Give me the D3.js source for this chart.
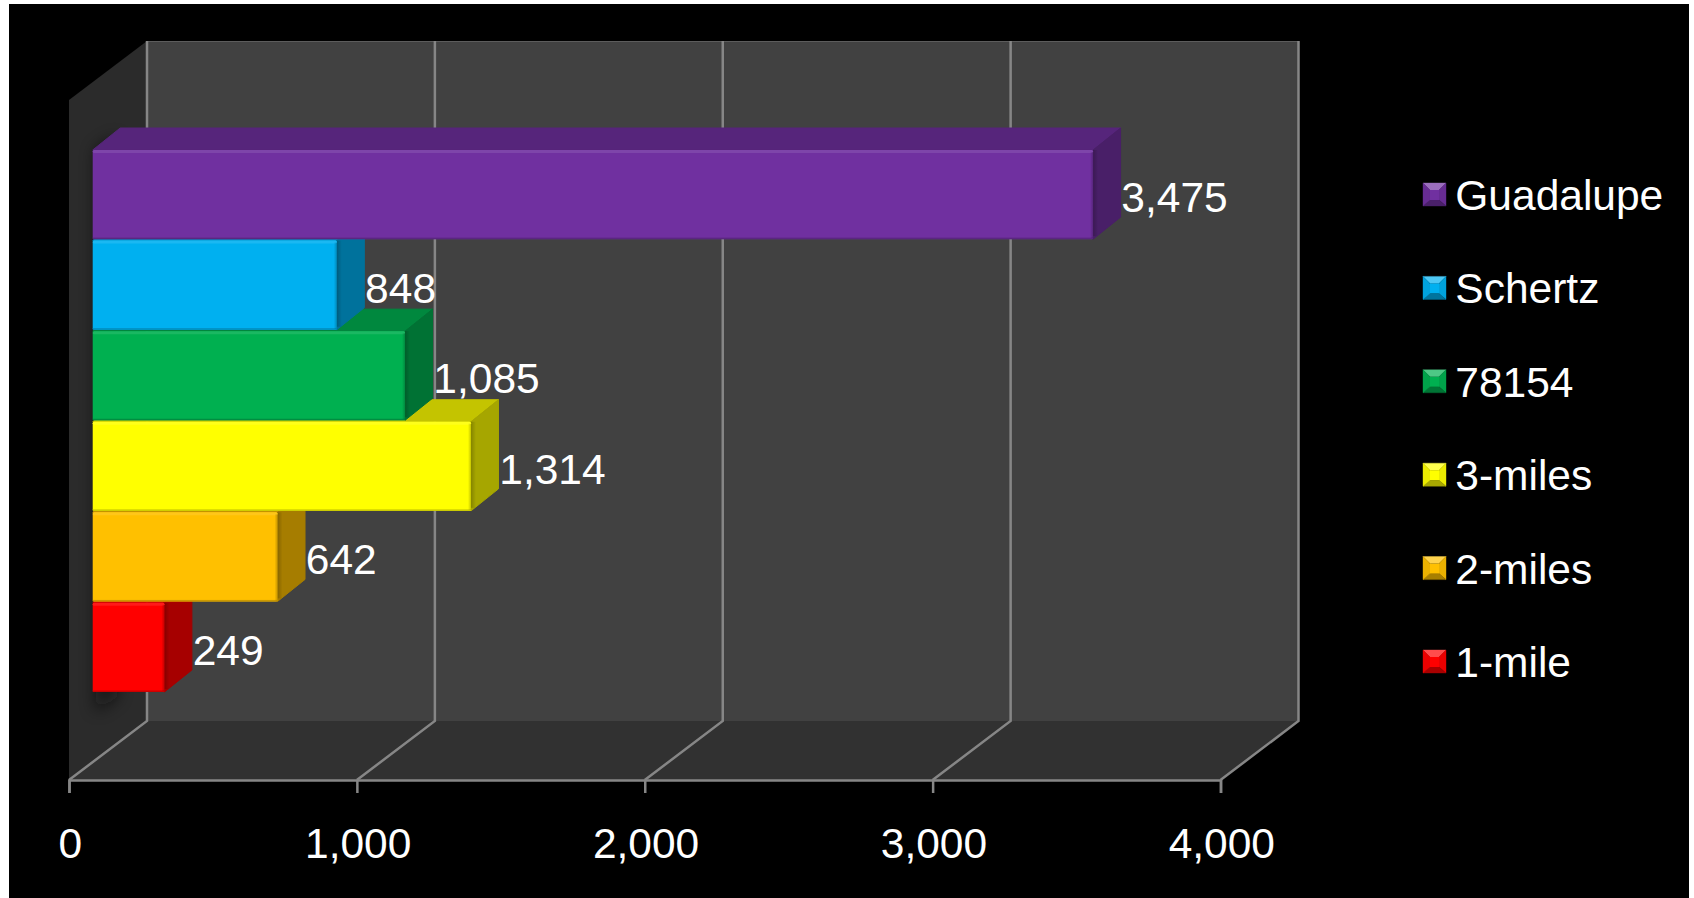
<!DOCTYPE html>
<html>
<head>
<meta charset="utf-8">
<style>
html,body{margin:0;padding:0;background:#fff;overflow:hidden}
svg{display:block}
text{font-family:"Liberation Sans",Arial,sans-serif;fill:#fff}
</style>
<script src="https://cdn.jsdelivr.net/npm/d3@7/dist/d3.min.js"></script>
</head>
<body>
<svg id="c" width="1694" height="898"></svg>
<script>
const categories = ["Guadalupe","Schertz","78154","3-miles","2-miles","1-mile"];
const values = [3475,848,1085,1314,642,249];
const barColors = ["#7030A0","#00B0F0","#00B050","#FFFF00","#FFC000","#FF0000"];
const ticks = [0,1000,2000,3000,4000];

const svg = d3.select("#c");
const defs = svg.append("defs");

// frame
svg.append("rect").attr("x",9).attr("y",4).attr("width",1680).attr("height",894).attr("fill","#000");

const x = d3.scaleLinear().domain([0,4000]).range([69,1220.5]);
const yFloor = 780, wallDx = 78, wallDy = 59, wallTop = 100;
const barInset = 23.7, barDx = 27.5, barDy = 22;
const y = d3.scaleBand().domain(categories).range([150,692]).paddingInner(0.016).paddingOuter(0);
const shade = (c,k)=>{const r=d3.rgb(c);return d3.rgb(r.r*k,r.g*k,r.b*k).formatHex();};
const lift = (c,k)=>{const r=d3.rgb(c);return d3.rgb(r.r+(255-r.r)*k,r.g+(255-r.g)*k,r.b+(255-r.b)*k).formatHex();};
const poly = pts=>pts.map(p=>p.join(",")).join(" ");

// walls
const x0=x(0), x4=x(4000);
const leftWall=[[x0,wallTop],[x0+wallDx,wallTop-wallDy],[x0+wallDx,yFloor-wallDy],[x0,yFloor]];
svg.append("polygon").attr("points",poly(leftWall)).attr("fill","#2b2b2b");
svg.append("rect").attr("x",x0+wallDx).attr("y",wallTop-wallDy).attr("width",x4-x0)
   .attr("height",yFloor-wallTop).attr("fill","#414141");
svg.append("polygon").attr("points",poly([[x0,yFloor],[x0+wallDx,yFloor-wallDy],[x4+wallDx,yFloor-wallDy],[x4,yFloor]])).attr("fill","#313131");
svg.append("line").attr("x1",x0+wallDx).attr("x2",x4+wallDx).attr("y1",wallTop-wallDy+.5).attr("y2",wallTop-wallDy+.5).attr("stroke","#5c5c5c");

// soft shadow on the side wall
const blur=defs.append("filter").attr("id","soft").attr("x","-80%").attr("y","-10%").attr("width","260%").attr("height","120%");
blur.append("feGaussianBlur").attr("stdDeviation",8);
defs.append("clipPath").attr("id","wallClip").append("polygon").attr("points",poly(leftWall));
svg.append("g").attr("clip-path","url(#wallClip)")
   .append("polygon").attr("filter","url(#soft)").attr("fill","#0c0c0c").attr("opacity",.65)
   .attr("points",poly([[x0+barInset+3,y.range()[0]],[x0+barInset+barDx-3,y.range()[0]-barDy+8],[x0+barInset+barDx-3,y.range()[1]+5],[x0+barInset+3,y.range()[1]+20]]));

// grid lines
const grid=svg.append("g").attr("stroke","#868686").attr("stroke-width",2.5).attr("fill","none");
grid.selectAll("polyline").data(ticks).join("polyline")
    .attr("points",d=>poly([[x(d),yFloor],[x(d)+wallDx,yFloor-wallDy],[x(d)+wallDx,wallTop-wallDy]]));

// axis
const axis=d3.axisBottom(x).tickValues(ticks).tickFormat(d3.format(",")).tickSize(13).tickSizeOuter(13);
const ax=svg.append("g").attr("transform",`translate(0,${yFloor})`).call(axis);
ax.selectAll("path,line").attr("stroke","#868686").attr("stroke-width",2.5);
ax.selectAll("text").attr("x",.8).attr("y",78).attr("dy",0).attr("font-size",42.5).attr("font-family",null).style("fill","#fff");
ax.attr("font-family",null).attr("font-size",null);

// bars, drawn bottom up so that upper bars sit over the caps below them
const gr=defs.append("linearGradient").attr("id","edge").attr("x1",0).attr("x2",1).attr("y1",0).attr("y2",0);
gr.append("stop").attr("offset",0).attr("stop-color","#000").attr("stop-opacity",0);
gr.append("stop").attr("offset",1).attr("stop-color","#000").attr("stop-opacity",.22);
const sideGr=defs.append("linearGradient").attr("id","sideEdge").attr("x1",0).attr("x2",1).attr("y1",0).attr("y2",0);
sideGr.append("stop").attr("offset",0).attr("stop-color","#000").attr("stop-opacity",.2);
sideGr.append("stop").attr("offset",1).attr("stop-color","#000").attr("stop-opacity",0);

const rows=categories.map((c,i)=>({c,v:values[i],col:barColors[i]})).reverse();
const bars=svg.append("g").selectAll("g").data(rows).join("g");
const left=x0+barInset;
const right=d=>x(d.v)+barInset;
bars.append("polygon").attr("fill",d=>shade(d.col,.77)).attr("stroke",d=>shade(d.col,.77)).attr("stroke-linejoin","round")
    .attr("points",d=>{const t=y(d.c);return poly([[left,t],[left+barDx,t-barDy],[right(d)+barDx,t-barDy],[right(d),t]]);});
bars.append("polygon").attr("fill",d=>shade(d.col,.65)).attr("stroke",d=>shade(d.col,.65)).attr("stroke-linejoin","round")
    .attr("points",d=>{const t=y(d.c),b=t+y.bandwidth();return poly([[right(d),t],[right(d)+barDx,t-barDy],[right(d)+barDx,b-barDy],[right(d),b]]);});
bars.append("rect").attr("x",d=>right(d)).attr("y",d=>y(d.c)).attr("width",5).attr("height",y.bandwidth()-3).attr("fill","url(#sideEdge)");
bars.append("rect").attr("x",left).attr("y",d=>y(d.c)).attr("width",d=>right(d)-left).attr("height",y.bandwidth()).attr("rx",1.5).attr("fill",d=>d.col);
bars.append("rect").attr("x",left).attr("y",d=>y(d.c)).attr("width",d=>right(d)-left).attr("height",3).attr("rx",1.5).attr("fill",d=>lift(d.col,.1));
bars.append("rect").attr("x",left).attr("y",d=>y(d.c)+y.bandwidth()-1.5).attr("width",d=>right(d)-left).attr("height",1.5).attr("fill",d=>shade(d.col,.8));
bars.append("rect").attr("x",d=>right(d)-3).attr("y",d=>y(d.c)+2).attr("width",3).attr("height",y.bandwidth()-3).attr("fill","url(#edge)");

// value labels
svg.append("g").selectAll("text").data(rows).join("text")
   .attr("x",d=>right(d)+barDx+.8).attr("y",d=>y(d.c)+y.bandwidth()/2+17.5)
   .attr("font-size",42.5).text(d=>d3.format(",")(d.v));

// legend
const legendY=d3.scalePoint().domain(categories).range([210,210+93.4*5]);
const leg=svg.append("g").selectAll("g").data(categories.map((c,i)=>({c,col:barColors[i]}))).join("g")
   .attr("transform",d=>`translate(0,${legendY(d.c)})`);
leg.append("text").attr("x",1455.3).attr("font-size",42.5).text(d=>d.c);
const ml=1423,ms=23,mt=-27,inset=6;
const corners=[[ml,mt],[ml+ms,mt],[ml+ms,mt+ms],[ml,mt+ms]];
const inner=[[ml+inset+1,mt+inset+1],[ml+ms-inset-1,mt+inset+1],[ml+ms-inset-1,mt+ms-inset],[ml+inset+1,mt+ms-inset]];
const faces=[[0,1,1.0,.3],[1,2,.92,0],[2,3,.66,0],[3,0,.92,0]];
faces.forEach(([a,b,k,l])=>{
  leg.append("polygon").attr("points",poly([corners[a],corners[b],inner[b],inner[a]]))
     .attr("fill",d=>lift(shade(d.col,k),l)).attr("stroke",d=>lift(shade(d.col,k),l)).attr("stroke-width",.4);
});
leg.append("polygon").attr("points",poly(inner)).attr("fill",d=>d.col);
</script>
</body>
</html>
